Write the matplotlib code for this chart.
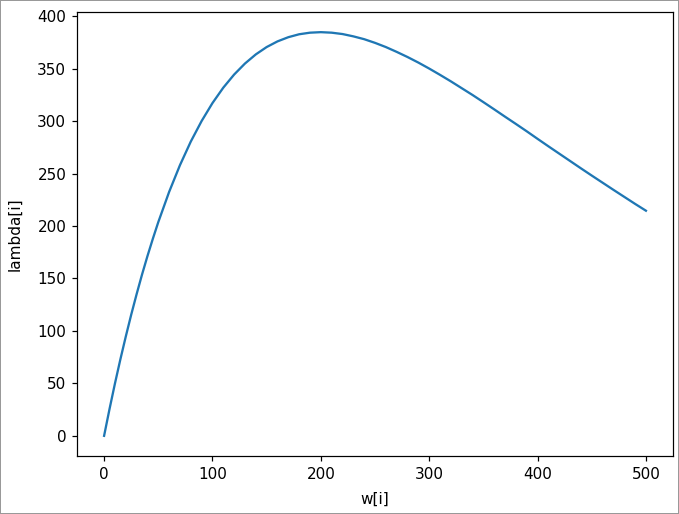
import matplotlib
matplotlib.use("Agg")
import matplotlib.pyplot as plt

w_vals = [0, 5, 10, 15, 20, 25, 30, 35, 40, 45, 50, 60, 70, 80, 90, 100,
          110, 120, 130, 140, 150, 160, 170, 180, 190, 200,
          210, 220, 230, 240, 250, 260, 270, 280, 290, 300,
          310, 320, 330, 340, 350, 360, 370, 380, 390, 400,
          410, 420, 430, 440, 450, 460, 470, 480, 490, 500]
lambda_vals = [0, 25.5, 49.8, 72.8, 94.6, 115.4, 135.0, 153.7, 171.3, 187.9, 203.7,
               232.5, 258.0, 280.5, 300.1, 317.2,
               331.9, 344.4, 354.9, 363.6, 370.6, 376.0, 380.0, 382.8, 384.3, 384.8,
               384.3, 383.0, 380.8, 378.1, 374.6, 370.6, 366.0, 361.1, 355.8, 350.1,
               344.1, 337.9, 331.4, 324.9, 318.1, 311.2, 304.2, 297.3, 290.3, 283.1,
               276.0, 269.0, 262.0, 255.0, 248.1, 241.3, 234.5, 227.8, 221.1, 214.6]

DPI = 110
fig = plt.figure(figsize=(679 / DPI, 514 / DPI), dpi=DPI, edgecolor="#999999", linewidth=1)
ax = fig.add_subplot(111)
fig.subplots_adjust(left=0.1134, right=0.9912, top=0.9767, bottom=0.1128)
ax.plot(w_vals, lambda_vals, color="#1f77b4", linewidth=1.5)
ax.set_xlabel("w[i]", labelpad=6.6)
ax.set_ylabel("lambda[i]", labelpad=9.6)
fig.savefig("out.png", dpi=DPI, edgecolor=fig.get_edgecolor())
